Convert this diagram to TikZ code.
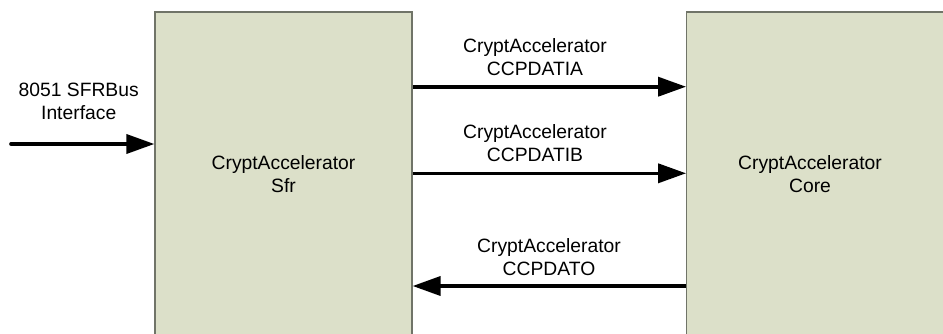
\documentclass[tikz,border=0pt]{standalone}
\usepackage{fontspec}
\setmainfont{Liberation Sans}
\usetikzlibrary{arrows.meta}
\definecolor{boxfill}{RGB}{220,224,201}
\definecolor{boxline}{RGB}{112,116,104}
\tikzset{
  blockbox/.style={draw=boxline, fill=boxfill, line width=1.2pt, rectangle, inner sep=0pt},
  lbl/.style={align=center, inner sep=0pt, font=\fontsize{19.3}{23.3}\selectfont},
  arr/.style={line width=3.6pt, -{Triangle[length=28pt,width=19pt]}},
}
\begin{document}
\begin{tikzpicture}[x=1pt,y=-1pt]
\useasboundingbox (0,0) rectangle (943,333);
\clip (0,0) rectangle (943,333);
\fill[white] (0,0) rectangle (943,333);
\node[blockbox, minimum width=257pt, minimum height=348pt] (sfr) at (283.5,186) {};
\node[blockbox, minimum width=274pt, minimum height=348pt] (core) at (823.7,186) {};
\node[lbl] (sfrtext) at (283.5,173.9) {CryptAccelerator\\Sfr};
\node[lbl] (coretext) at (810,173.9) {CryptAccelerator\\Core};
\node[lbl] (bus) at (78.7,101.6) {8051 SFRBus\\Interface};
\node[lbl] (la) at (535,57.3) {CryptAccelerator\\CCPDATIA};
\node[lbl] (lb) at (535,143.3) {CryptAccelerator\\CCPDATIB};
\node[lbl] (lo) at (549,257.3) {CryptAccelerator\\CCPDATO};
\coordinate (busin) at (11,144);
\draw[arr, line cap=round] (busin) -- (sfr.west |- busin);
\draw[arr] (sfr.east |- 0,86.7) -- (core.west |- 0,86.7);
\draw[arr] (sfr.east |- 0,173.3) -- (core.west |- 0,173.3);
\draw[arr] (core.west |- 0,286) -- (sfr.east |- 0,286);
\end{tikzpicture}
\end{document}
